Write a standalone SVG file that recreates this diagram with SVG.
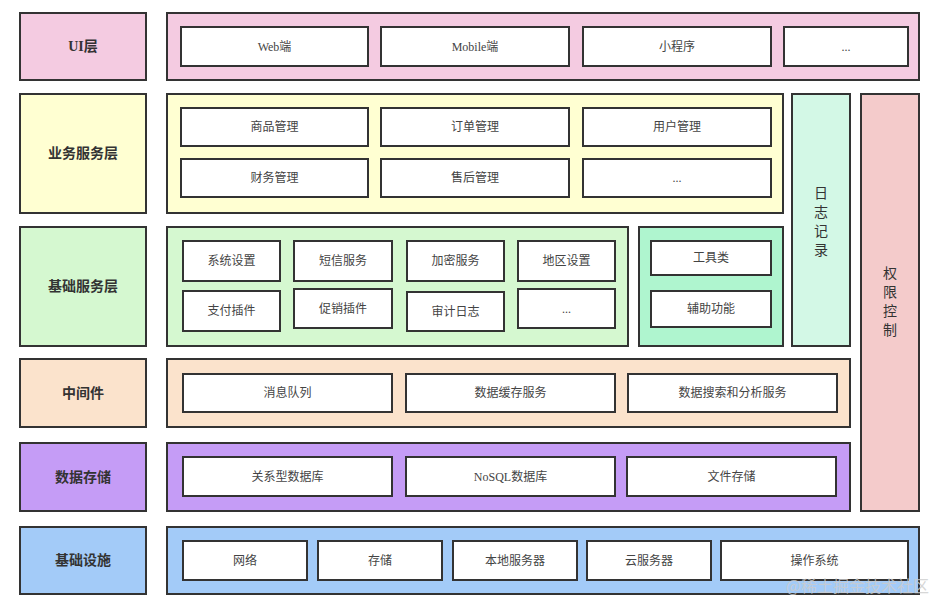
<svg xmlns="http://www.w3.org/2000/svg" width="936" height="608" viewBox="0 0 936 608">
<style>
.b rect{stroke:#333;stroke-width:2}
.w{fill:#fff}
.lbl{font-family:"Liberation Serif","Noto Sans CJK SC",serif;font-size:14px;font-weight:bold;fill:#333;text-anchor:middle;dominant-baseline:central}
.t{font-family:"Liberation Serif","Noto Sans CJK SC",serif;font-size:12px;fill:#444;text-anchor:middle;dominant-baseline:central}
.v{font-family:"Liberation Serif","Noto Sans CJK SC",serif;font-size:14px;fill:#333;text-anchor:middle;dominant-baseline:central}
</style>
<rect x="0" y="0" width="936" height="608" fill="#fff"/>
<g class="b">
<g id="ui-layer">
<rect x="20" y="13" width="126" height="67" fill="#f4cbe1"/>
<text class="lbl" x="83" y="46.5">UI层</text>
<rect x="167" y="13" width="752" height="67" fill="#f4cbe1"/>
<rect class="w" x="181" y="27" width="187" height="39"/><text class="t" x="274.5" y="46.5">Web端</text>
<rect class="w" x="381" y="27" width="188" height="39"/><text class="t" x="475" y="46.5">Mobile端</text>
<rect class="w" x="583" y="27" width="188" height="39"/><text class="t" x="677" y="46.5">小程序</text>
<rect class="w" x="784" y="27" width="124" height="39"/><text class="t" x="846" y="46.5">...</text>
</g>
<g id="business-layer">
<rect x="20" y="94" width="126" height="119" fill="#ffffd2"/>
<text class="lbl" x="83" y="153.5">业务服务层</text>
<rect x="167" y="94" width="616" height="119" fill="#ffffd2"/>
<rect class="w" x="181" y="108" width="187" height="38"/><text class="t" x="274.5" y="127">商品管理</text>
<rect class="w" x="381" y="108" width="188" height="38"/><text class="t" x="475" y="127">订单管理</text>
<rect class="w" x="583" y="108" width="188" height="38"/><text class="t" x="677" y="127">用户管理</text>
<rect class="w" x="181" y="159" width="187" height="38"/><text class="t" x="274.5" y="178">财务管理</text>
<rect class="w" x="381" y="159" width="188" height="38"/><text class="t" x="475" y="178">售后管理</text>
<rect class="w" x="583" y="159" width="188" height="38"/><text class="t" x="677" y="178">...</text>
</g>
<g id="log">
<rect x="792" y="94" width="58" height="252" fill="#d3f8e6"/>
<text class="v" x="821" y="193">日</text>
<text class="v" x="821" y="212">志</text>
<text class="v" x="821" y="231">记</text>
<text class="v" x="821" y="250">录</text>
</g>
<g id="permission">
<rect x="861" y="94" width="58" height="417" fill="#f4cbcb"/>
<text class="v" x="890" y="273">权</text>
<text class="v" x="890" y="292">限</text>
<text class="v" x="890" y="311">控</text>
<text class="v" x="890" y="330">制</text>
</g>
<g id="base-service-layer">
<rect x="20" y="227" width="126" height="119" fill="#d5f8d0"/>
<text class="lbl" x="83" y="286.5">基础服务层</text>
<rect x="167" y="227" width="461" height="119" fill="#d5f8d0"/>
<rect class="w" x="183" y="241" width="97" height="40"/><text class="t" x="231.5" y="261">系统设置</text>
<rect class="w" x="294" y="241" width="98" height="40"/><text class="t" x="343" y="261">短信服务</text>
<rect class="w" x="407" y="241" width="97" height="40"/><text class="t" x="455.5" y="261">加密服务</text>
<rect class="w" x="518" y="241" width="97" height="40"/><text class="t" x="566.5" y="261">地区设置</text>
<rect class="w" x="183" y="291" width="97" height="40"/><text class="t" x="231.5" y="311">支付插件</text>
<rect class="w" x="294" y="289" width="98" height="39"/><text class="t" x="343" y="308.5">促销插件</text>
<rect class="w" x="407" y="292" width="97" height="39"/><text class="t" x="455.5" y="311.5">审计日志</text>
<rect class="w" x="518" y="289" width="97" height="39"/><text class="t" x="566.5" y="308.5">...</text>
</g>
<g id="tools">
<rect x="639" y="227" width="144" height="119" fill="#aff5cf"/>
<rect class="w" x="651" y="241" width="120" height="34"/><text class="t" x="711" y="258">工具类</text>
<rect class="w" x="651" y="291" width="120" height="36"/><text class="t" x="711" y="309">辅助功能</text>
</g>
<g id="middleware-layer">
<rect x="20" y="359" width="126" height="68" fill="#fbe3cc"/>
<text class="lbl" x="83" y="393">中间件</text>
<rect x="167" y="359" width="683" height="68" fill="#fbe3cc"/>
<rect class="w" x="183" y="374" width="209" height="38"/><text class="t" x="287.5" y="393">消息队列</text>
<rect class="w" x="406" y="374" width="209" height="38"/><text class="t" x="510.5" y="393">数据缓存服务</text>
<rect class="w" x="628" y="374" width="209" height="38"/><text class="t" x="732.5" y="393">数据搜索和分析服务</text>
</g>
<g id="storage-layer">
<rect x="20" y="443" width="126" height="68" fill="#c59cf6"/>
<text class="lbl" x="83" y="477">数据存储</text>
<rect x="167" y="443" width="683" height="68" fill="#c59cf6"/>
<rect class="w" x="183" y="457" width="209" height="39"/><text class="t" x="287.5" y="476.5">关系型数据库</text>
<rect class="w" x="406" y="457" width="209" height="39"/><text class="t" x="510.5" y="476.5">NoSQL数据库</text>
<rect class="w" x="627" y="457" width="209" height="39"/><text class="t" x="731.5" y="476.5">文件存储</text>
</g>
<g id="infra-layer">
<rect x="20" y="527" width="126" height="67" fill="#a3cbf8"/>
<text class="lbl" x="83" y="560.5">基础设施</text>
<rect x="167" y="527" width="752" height="67" fill="#a3cbf8"/>
<rect class="w" x="183" y="541" width="124" height="39"/><text class="t" x="245" y="560.5">网络</text>
<rect class="w" x="318" y="541" width="124" height="39"/><text class="t" x="380" y="560.5">存储</text>
<rect class="w" x="453" y="541" width="124" height="39"/><text class="t" x="515" y="560.5">本地服务器</text>
<rect class="w" x="587" y="541" width="124" height="39"/><text class="t" x="649" y="560.5">云服务器</text>
<rect class="w" x="721" y="541" width="187" height="39"/><text class="t" x="814.5" y="560.5">操作系统</text>
</g>
</g>
<g id="connectors"></g>
<text x="929" y="592" font-family="Noto Sans CJK SC, sans-serif" font-size="16" fill="#ccc" fill-opacity="0.8" text-anchor="end">@稀土掘金技术社区</text>
</svg>
